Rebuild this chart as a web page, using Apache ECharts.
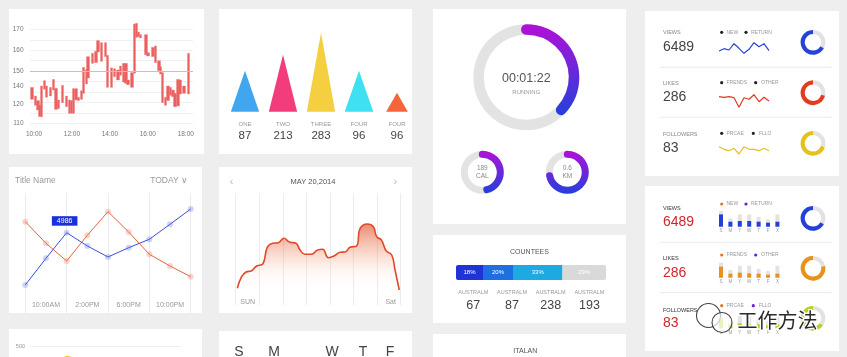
<!DOCTYPE html>
<html><head><meta charset="utf-8">
<script src="https://cdn.jsdelivr.net/npm/echarts@6/dist/echarts.min.js"></script>
<style>html,body{margin:0;padding:0;background:#eeeeee;overflow:hidden}#c{width:847px;height:357px}</style>
</head><body><div id="c"></div>
<script>
const FONT = '"Liberation Sans", Arial, sans-serif';

// ---------- Panel 1: price candles ----------
const candleMinutes = [-6,4,13,19,24,34,40,53,61,70,78,91,103,112,118,124,133,141,150,156,165,171,184,196,202,213,226,232,245,255,266,274,285,291,297,310,318,325,331,337,354,361,376,384,395,401,407,415,424,432,440,446,456,462,475,489];
const candleLow = [125.4,121.6,118.6,114.4,114.4,131.8,126.7,127.5,131.3,119.0,119.5,123.3,120.7,116.5,116.5,116.5,125.0,124.6,125.4,129.2,135.2,139.0,148.3,148.8,155.6,149.6,152.6,133.0,133.0,139.8,137.7,140.7,136.4,135.6,134.7,133.0,142.0,164.9,165.3,164.5,153.8,153.0,152.6,148.8,143.7,141.5,123.3,121.6,124.6,128.0,127.1,120.7,121.2,128.8,129.2,128.8];
const candleHigh = [133.0,127.5,124.6,121.8,133.9,137.3,133.9,133.0,138.1,132.4,125.0,134.3,127.5,125.0,124.6,132.2,132.2,126.7,130.9,145.8,144.5,152.6,154.7,156.0,162.8,161.5,161.5,153.4,145.4,144.9,144.1,146.6,148.3,148.3,137.7,142.4,173.4,173.8,168.3,166.6,166.6,155.1,158.5,159.4,150.0,146.2,142.4,126.7,133.9,133.0,131.3,129.2,138.1,137.7,133.9,154.7];
const timeTicks = ['10:00','12:00','14:00','16:00','18:00'];
const timeTickMinutes = [0,120,240,360,480];
const priceTicks = ['170','160','150','140','120','110'];
const priceTickLevels = [170,156.6,143.4,133.9,122.4,110];
const refLevel = 143.33;

// ---------- Panel 2: peaks ----------
const peakNames = ['ONE','TWO','THREE','FOUR','FOUR'];
const peakCounts = [87,213,283,96,96];
const peakHeights = [41,57,79,41,19];
const peakColors = ['#3fa6ef','#f33c7c','#f4cf3f','#3ee0f1','#f5653a'];
const peakWidths = [28.3,28.3,28.3,28.6,21.7];

// ---------- Panel 3: rings ----------
const runProgress = 37, runTime = '00:01:22', runLabel = 'RUNNING';
const calProgress = 46, calValue = '189', calUnit = 'CAL';
const kmProgress = 72, kmValue = '0.6', kmUnit = 'KM';

// ---------- Panel 4 / 9: stats ----------
const statNames = ['VIEWS','LIKES','FOLLOWERS'];
const statValues = [6489, 286, 83];
const statLegends = [['NEW','RETURN'],['FRENDS','OTHER'],['PRCAE','FLLO']];
const sparkViews = [4, 6.3, 5, 11.3, 6.7, 1.7, 5.7, 12.3, 8.3, 11.3, 4.3];
const sparkLikes = [13.3, 12.7, 13.3, 12.3, 2.7, 12.3, 10.7, 15.3, 8.3, 12.7, 9];
const sparkFollowers = [13.3, 10.7, 9.3, 11.7, 6, 13.3, 10.7, 10.7, 9.3, 11.7, 9.3];
const donutShareTop = [67, 71, 70];
const donutShareBottom = [67, 78, 65];
const weekLetters = ['S','M','Y','W','T','F','X'];
const viewsTotal = [15.7, 8.3, 12.3, 12.3, 9.7, 7.3, 12.3];
const viewsPart = [12.3, 5, 5.7, 5.7, 5, 4, 5];
const likesTotal = [15, 7.7, 12, 12, 8.7, 6.7, 12];
const likesPart = [11, 4, 5, 4.3, 4, 3, 4];
const followersTotal = [14, 8, 12, 12, 9, 7, 12];
const followersPart = [9, 4, 5, 4, 4, 3, 4];

// ---------- Panel 5: two lines ----------
const dayCats = ['', '10:00AM', '', '2:00PM', '', '6:00PM', '', '10:00PM', ''];
const redSeries = [5669, 4328, 3229, 4824, 6293, 5029, 3645, 2918, 2254];
const blueSeries = [1739, 3396, 4986, 4160, 3477, 4054, 4576, 5507, 6457];
const highlightIndex = 2;

// ---------- Panel 6: week area ----------
const weekTitle = 'MAY 20,2014';
const weekEnds = ['SUN','Sat'];
const weekX = [0.07,0.25,0.44,0.68,0.89,1.15,1.34,1.57,1.81,2.05,2.28,2.56,2.73,2.94,3.22,3.47,3.69,3.93,4.17,4.43,4.64,4.85,5.13,5.28,5.59,5.84,5.98,6.18,6.38,6.62,6.76,6.94];
const weekLevel = [16.7,28.3,33,34.3,39,41,57.7,61.7,62.3,66.7,63,61.7,55,50.7,50.7,55,55.7,47.3,49,52.7,53,57.7,59,76.7,81,78.3,68.3,65,54.3,50,35,15];

// ---------- Panel 7: countries ----------
const countryShares = [18,20,33,29];
const countryColors = ['#1f33d6','#1e6fe2','#1ea9e1','#d9d9d9'];
const countryNames = ['AUSTRALM','AUSTRALM','AUSTRALM','AUSTRALM'];
const countryValues = [67,87,238,193];

// ---------- Panel 10 / 11 ----------
const bottomLine = [[0,300],[37,420],[75,330],[110,360],[151,280]];
const bottomTick = 500;
const calLetters = ['S','M','W','T','F'];

const grids = [], xAxes = [], yAxes = [], series = [], elements = [];
function addGrid(g){ g.outerBoundsMode = 'none'; g.containLabel = false; grids.push(g); return grids.length - 1; }
const noAxis = {axisLine:{show:false}, axisTick:{show:false}};

// ---- P1
let g = addGrid({left:30, top:29.3, width:163, height:94.2});
xAxes.push(Object.assign({gridIndex:g, type:'value', min:-12.7, max:503, splitLine:{show:false},
  axisLabel:{customValues:timeTickMinutes, formatter:v => timeTicks[timeTickMinutes.indexOf(Math.round(v))] || '', fontSize:6.5, color:'#777', margin:7}}, noAxis));
yAxes.push(Object.assign({gridIndex:g, type:'value', min:110, max:170, interval:20/3,
  splitLine:{lineStyle:{color:'#f0f0f0', width:1}},
  axisLabel:{customValues:priceTickLevels, formatter:v => { const i = priceTickLevels.findIndex(p => Math.abs(p - v) < 0.05); return i < 0 ? '' : priceTicks[i]; }, fontSize:6.5, color:'#777', margin:6.5}}, noAxis));
series.push({type:'candlestick', xAxisIndex:g, yAxisIndex:g, clip:false, barWidth:2.8,
  data: candleMinutes.map((m,i) => [m, candleLow[i], candleHigh[i], candleLow[i], candleHigh[i]]),
  itemStyle:{color:'#eb5f5f', color0:'#eb5f5f', borderColor:'#ef7b7b', borderColor0:'#ef7b7b', borderWidth:0.4}});
series.push({type:'line', xAxisIndex:g, yAxisIndex:g, data:[], silent:true,
  markLine:{silent:true, symbol:'none', label:{show:false}, lineStyle:{color:'#c2c2c2', type:'solid', width:1}, data:[{yAxis:refLevel}]}});

// ---- P2
g = addGrid({left:226, top:11.7, width:190, height:100});
xAxes.push(Object.assign({gridIndex:g, type:'category', data:peakNames,
  axisLabel:{interval:0, hideOverlap:false, margin:8, formatter:(v,i) => '{n|' + v + '}\n{v|' + peakCounts[i] + '}',
    rich:{n:{fontSize:6, color:'#999', lineHeight:10, fontFamily:FONT}, v:{fontSize:11.5, color:'#444', lineHeight:12, fontFamily:FONT}}}}, noAxis));
yAxes.push({gridIndex:g, type:'value', min:0, max:100, show:false});
series.push({type:'pictorialBar', xAxisIndex:g, yAxisIndex:g, symbol:'triangle',
  data: peakHeights.map((h,i) => ({value:h, symbolSize:[peakWidths[i], '100%'], itemStyle:{color:peakColors[i]}}))});

// ---- P5
g = addGrid({left:25.3, top:193, width:165.4, height:120});
xAxes.push(Object.assign({gridIndex:g, type:'category', data:dayCats, boundaryGap:false,
  splitLine:{show:true, interval:(i) => i % 2 === 0, lineStyle:{color:'#ececec'}},
  axisLabel:{interval:0, margin:-11.5, fontSize:7, color:'#999'}}, noAxis));
yAxes.push({gridIndex:g, type:'value', min:0, max:7450, show:false});
series.push({type:'line', xAxisIndex:g, yAxisIndex:g, data:redSeries, symbol:'circle', symbolSize:6,
  lineStyle:{color:'#e8613d', width:1}, itemStyle:{color:'rgba(240,130,100,0.35)'}, z:3});
series.push({type:'line', xAxisIndex:g, yAxisIndex:g, symbol:'circle', symbolSize:6,
  data: blueSeries.map((v,i) => i === highlightIndex ? {value:v, label:{show:true, position:'top', offset:[-2,0], distance:4, formatter:'{c}', color:'#fff', fontSize:7, backgroundColor:'#1a30d8', padding:[1.5,5,1,5]}} : v),
  lineStyle:{color:'#3a4fd8', width:1}, itemStyle:{color:'rgba(90,110,225,0.3)'}, z:4});

// ---- P6
g = addGrid({left:235.7, top:193, width:165, height:112});
xAxes.push(Object.assign({gridIndex:g, type:'value', min:0, max:7, interval:1,
  splitLine:{show:true, lineStyle:{color:'#ececec'}},
  axisLabel:{customValues:[0,7], margin:-6, fontSize:7, color:'#999',
    formatter:v => v < 1 ? '{l|' + weekEnds[0] + '}' : '{r|' + weekEnds[1] + '}',
    rich:{l:{padding:[0,0,0,24], fontSize:7, color:'#999', fontFamily:FONT}, r:{padding:[0,20,0,0], fontSize:7, color:'#999', fontFamily:FONT}}}}, noAxis));
yAxes.push({gridIndex:g, type:'value', min:0, max:112, show:false});
series.push({type:'line', xAxisIndex:g, yAxisIndex:g, smooth:0.45, showSymbol:false,
  data: weekX.map((x,i) => [x, weekLevel[i]]),
  lineStyle:{color:'#e04a2a', width:1.6},
  areaStyle:{color:{type:'linear', x:0, y:0, x2:0, y2:1, colorStops:[
    {offset:0, color:'rgba(224,78,40,0.95)'}, {offset:0.3, color:'rgba(236,115,75,0.5)'},
    {offset:0.6, color:'rgba(245,170,140,0.12)'}, {offset:0.85, color:'rgba(255,255,255,0)'}]}}});

// ---- P7
g = addGrid({left:456, top:265, width:150, height:15});
xAxes.push({gridIndex:g, type:'value', min:0, max:100, show:false});
yAxes.push({gridIndex:g, type:'category', data:['c'], show:false});
countryShares.forEach((s,i) => {
  const last = i === countryShares.length - 1;
  series.push({type:'bar', stack:'c', xAxisIndex:g, yAxisIndex:g, barWidth:15, data:[s],
    itemStyle:{color:countryColors[i], borderRadius: i === 0 ? [2,0,0,2] : (last ? [0,2,2,0] : 0)},
    label:{show:true, position:'inside', formatter:'{c}%', color:'#fff', fontSize:6}});
});

// ---- P10
g = addGrid({left:30, top:346.7, width:151, height:60});
xAxes.push({gridIndex:g, type:'value', min:0, max:151, show:false});
yAxes.push(Object.assign({gridIndex:g, type:'value', min:0, max:bottomTick, interval:bottomTick,
  splitLine:{lineStyle:{color:'#efefef'}}, axisLabel:{fontSize:5.5, color:'#999', margin:5}}, noAxis));
series.push({type:'line', xAxisIndex:g, yAxisIndex:g, data:bottomLine, showSymbol:false, lineStyle:{color:'#f5c21a', width:1.2}});

// ---- P4 sparklines
const sparkData = [sparkViews, sparkLikes, sparkFollowers];
const sparkColors = ['#2b44d6','#e03b1f','#e6c01c'];
const sparkBox = [[40,15],[90,20],[140,20]];
sparkData.forEach((d,r) => {
  const gi = addGrid({left:719, top:sparkBox[r][0], width:50, height:sparkBox[r][1]});
  xAxes.push({gridIndex:gi, type:'category', boundaryGap:false, data:d.map((_,i) => i), show:false});
  yAxes.push({gridIndex:gi, type:'value', min:0, max:sparkBox[r][1], show:false});
  series.push({type:'line', xAxisIndex:gi, yAxisIndex:gi, data:d, showSymbol:false, lineStyle:{color:sparkColors[r], width:1.2}});
});

// ---- P9 mini bars
const barTotals = [viewsTotal, likesTotal, followersTotal];
const barParts = [viewsPart, likesPart, followersPart];
const barColors = ['#2340d8','#e8921e','#b6d12a'];
const barBottoms = [226.7, 277.7, 328.3];
barTotals.forEach((tot,r) => {
  const gi = addGrid({left:716.3, top:barBottoms[r] - 20, width:65.8, height:20});
  xAxes.push(Object.assign({gridIndex:gi, type:'category', data:weekLetters, axisLabel:{fontSize:4.5, color:'#999', margin:1.5, interval:0}}, noAxis));
  yAxes.push({gridIndex:gi, type:'value', min:0, max:20, show:false});
  series.push({type:'bar', xAxisIndex:gi, yAxisIndex:gi, data:tot, barWidth:4, itemStyle:{color:'#e3e3e3'}});
  series.push({type:'bar', xAxisIndex:gi, yAxisIndex:gi, data:barParts[r], barWidth:4, barGap:'-100%', itemStyle:{color:barColors[r]}, z:3});
});

// ---- donuts
const donutCentersTop = [42.3, 92.7, 143.3];
const donutCentersBottom = [218.3, 268.3, 318.3];
const donutColorsTop = ['#2544d6','#e23b1d','#e6c01c'];
const donutColorsBottom = ['#2340d8','#e8921e','#b6d12a'];
function donut(cy, share, color){
  series.push({type:'pie', center:[813, cy], radius:[8.3, 12.4], startAngle:90, clockwise:true, silent:true,
    label:{show:false}, labelLine:{show:false},
    data:[{value:100 - share, itemStyle:{color:'#e2e2e2'}}, {value:share, itemStyle:{color:color}}]});
}
donutShareTop.forEach((s,i) => donut(donutCentersTop[i], s, donutColorsTop[i]));
donutShareBottom.forEach((s,i) => donut(donutCentersBottom[i], s, donutColorsBottom[i]));

// ---- rings (P3)
const ringGrad = {type:'linear', x:0, y:0, x2:0, y2:1, colorStops:[{offset:0, color:'#b30fd8'}, {offset:1, color:'#2340dc'}]};
function ring(cx, cy, r, w, val, detail, title){
  series.push({type:'gauge', center:[cx, cy], radius:r, startAngle:90, endAngle:-270, min:0, max:100,
    pointer:{show:false}, axisTick:{show:false}, splitLine:{show:false}, axisLabel:{show:false},
    axisLine:{lineStyle:{width:w, color:[[1,'#e3e3e3']]}},
    progress:{show:true, width:w, roundCap:true, itemStyle:{color:ringGrad}},
    title: title, detail: detail, data:[{value:val, name: title.show ? runLabel : ''}]});
}
ring(526.3, 77.3, 53, 10.5, runProgress,
  {formatter:() => runTime, fontSize:12.5, color:'#555', fontWeight:'normal', offsetCenter:[0,1], fontFamily:FONT},
  {show:true, offsetCenter:[0,14.7], fontSize:6, color:'#999', fontFamily:FONT});
ring(482.3, 172.3, 21.5, 7, calProgress,
  {formatter:() => calValue + '\n' + calUnit, fontSize:6.5, lineHeight:7.5, color:'#888', fontWeight:'normal', offsetCenter:[0,0], fontFamily:FONT},
  {show:false});
ring(567.3, 172.3, 21.5, 7, kmProgress,
  {formatter:() => kmValue + '\n' + kmUnit, fontSize:6.5, lineHeight:7.5, color:'#888', fontWeight:'normal', offsetCenter:[0,0], fontFamily:FONT},
  {show:false});

// ---- graphic: cards and texts
const cards = [[9,9,195,145],[219,9,193,145],[433,9,193,215],[645,11,194,165],[9,167,193,146],[219,167,193,146],[433,235,193,88],[433,334,193,40],[645,186,194,165],[9,329,193,40],[219,331,193,40]];
cards.forEach(c => elements.push({type:'rect', z:0, silent:true, shape:{x:c[0], y:c[1], width:c[2], height:c[3]}, style:{fill:'#ffffff'}}));
function T(x, y, text, size, color, align, extra){
  const el = {type:'text', x:x, y:y, z:50, silent:true, style:{text:String(text), fill:color, fontSize:size, fontFamily:FONT,
    align:align || 'left', verticalAlign:'middle', textAlign:align || 'left', textVerticalAlign:'middle'}};
  if (extra) Object.assign(el.style, extra);
  elements.push(el);
}
function dot(x, y, color){ elements.push({type:'circle', z:50, silent:true, shape:{cx:x, cy:y, r:1.6}, style:{fill:color}}); }
function hline(x1, x2, y){ elements.push({type:'line', z:1, silent:true, shape:{x1:x1, y1:y, x2:x2, y2:y}, style:{stroke:'#ebebeb', lineWidth:1}}); }

// P4 texts
const topLabelY = [32.7, 83.3, 134], topValueY = [46.7, 97.3, 148.3], topLegendY = [32.3, 82.7, 133.3];
const botLabelY = [208.3, 258.3, 310], botValueY = [222.3, 272.7, 323.3], botLegendY = [204, 255, 305.7];
const legendDot2 = [746, 755.7, 753.3], legendText2 = [751, 761, 759];
statNames.forEach((n,i) => {
  T(663, topLabelY[i], n, 5.5, '#888');
  T(663, topValueY[i], statValues[i], 14, '#444');
  dot(721.7, topLegendY[i], '#222'); T(726.5, topLegendY[i], statLegends[i][0], 5, '#999');
  dot(legendDot2[i], topLegendY[i], '#222'); T(legendText2[i], topLegendY[i], statLegends[i][1], 5, '#999');
  T(663, botLabelY[i], n, 5.5, '#333');
  T(663, botValueY[i], statValues[i], 14, '#d0262b');
  dot(721.7, botLegendY[i], '#e8741c'); T(726.5, botLegendY[i], statLegends[i][0], 5, '#999');
  dot(legendDot2[i], botLegendY[i], '#6a1ed8'); T(legendText2[i], botLegendY[i], statLegends[i][1], 5, '#999');
});
hline(660, 831.7, 67.3); hline(660, 831.7, 117.3);
hline(660, 831.7, 242.3); hline(660, 831.7, 292.7);

// P5 header
T(15, 181, 'Title Name', 8.5, '#999');
T(188, 181, 'TODAY \u2228', 8.5, '#999', 'right');
// P6 header
T(313, 181.7, weekTitle, 7.5, '#555', 'center');
T(231.7, 181.7, '\u2039', 11, '#bbb', 'center');
T(395.3, 181.7, '\u203A', 11, '#bbb', 'center');
// P7 texts
T(529.5, 251.7, 'COUNTEES', 7, '#555', 'center');
countryNames.forEach((n,i) => {
  const cx = 473.3 + i * 38.7;
  T(cx, 292.3, n, 5.5, '#999', 'center');
  T(cx, 305.7, countryValues[i], 12.5, '#444', 'center');
});
// P8
T(525.3, 351, 'ITALAN', 7, '#555', 'center');
// P11 letters
const calX = [239, 274, 332, 363, 390];
calLetters.forEach((l,i) => T(calX[i], 351.7, l, 14, '#444', 'center'));
// watermark
elements.push({type:'circle', z:60, silent:true, shape:{cx:708.5, cy:315.5, r:12}, style:{fill:'rgba(255,255,255,0.55)', stroke:'#444', lineWidth:1.1}});
elements.push({type:'circle', z:61, silent:true, shape:{cx:722, cy:322.5, r:10}, style:{fill:'rgba(255,255,255,0.7)', stroke:'#444', lineWidth:1.1}});
T(777.5, 320.7, '工作方法', 20, '#2a2a2a', 'center', {stroke:'#ffffff', lineWidth:2.5, fontFamily:'"Noto Sans CJK SC", sans-serif'});
elements[elements.length - 1].z = 62;

const chart = echarts.init(document.getElementById('c'), null, {renderer:'canvas'});
chart.setOption({
  animation:false,
  backgroundColor:'#eeeeee',
  textStyle:{fontFamily:FONT},
  grid:grids, xAxis:xAxes, yAxis:yAxes, series:series,
  graphic:{elements:elements}
});
</script></body></html>
